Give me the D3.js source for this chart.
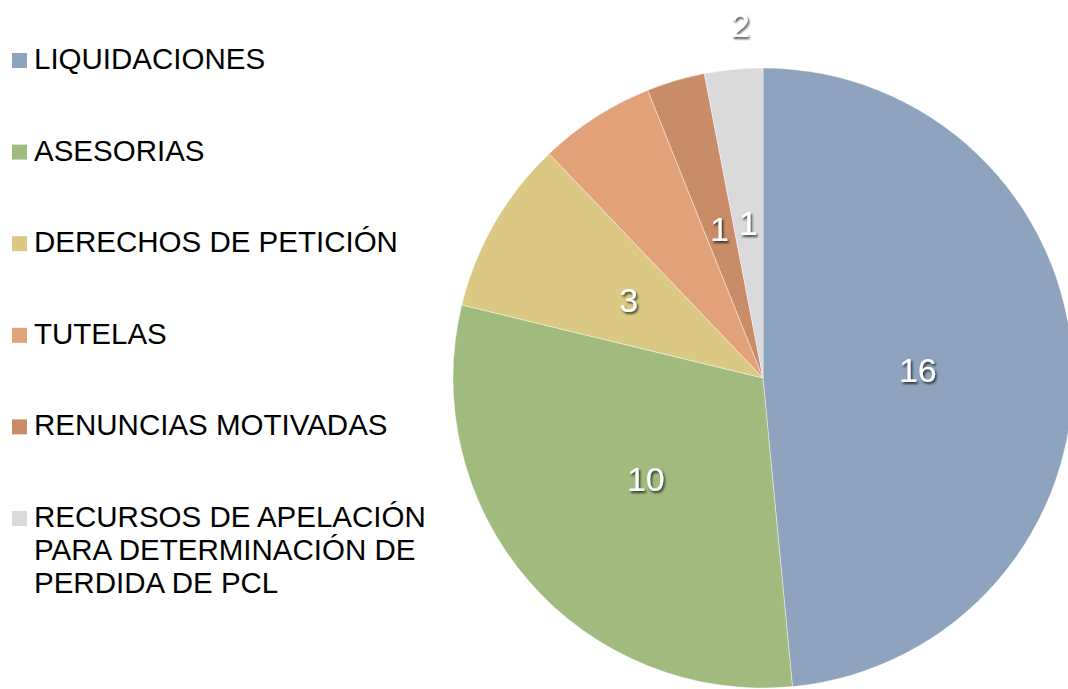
<!DOCTYPE html>
<html><head><meta charset="utf-8">
<script src="https://cdn.jsdelivr.net/npm/d3@7"></script>
<style>html,body{margin:0;padding:0;background:#fff;}svg{display:block;}</style>
</head><body>
<svg id="chart" width="1068" height="689"></svg>
<script>
const categories = ["LIQUIDACIONES","ASESORIAS","DERECHOS DE PETICIÓN","TUTELAS","RENUNCIAS MOTIVADAS","RECURSOS DE APELACIÓN PARA DETERMINACIÓN DE PERDIDA DE PCL"];
const legendLines = [["LIQUIDACIONES"],["ASESORIAS"],["DERECHOS DE PETICIÓN"],["TUTELAS"],["RENUNCIAS MOTIVADAS"],["RECURSOS DE APELACIÓN","PARA DETERMINACIÓN DE","PERDIDA DE PCL"]];
const values = [16,10,3,2,1,1];
const colors = ["#8DA3BE","#A1BA7D","#DBC983","#E3A17A","#C88C68","#DADADA"];
// label placement: [radius factor, angle override in degrees or null]
const labelPlacement = [[0.5,null],[0.5,null],[0.5,null],[1.14,-3.7],[0.5,null],[0.5,null]];

const svg = d3.select("#chart");
const cx = 763, cy = 378, R = 310;

const defs = svg.append("defs");
const f = defs.append("filter").attr("id","shadow").attr("x","-50%").attr("y","-50%").attr("width","200%").attr("height","200%");
f.append("feDropShadow").attr("dx",1.5).attr("dy",2).attr("stdDeviation",1.3).attr("flood-color","#000").attr("flood-opacity",0.7);

const pie = d3.pie().sort(null).value(d=>d)(values);
const arc = d3.arc().innerRadius(0).outerRadius(R);
const g = svg.append("g").attr("transform",`translate(${cx},${cy})`);
g.selectAll("path").data(pie).join("path")
  .attr("d",arc).attr("fill",(d,i)=>colors[i])
  .attr("stroke","rgba(255,255,255,0.5)").attr("stroke-width",0.8);

g.selectAll("text.lbl").data(pie).join("text").attr("class","lbl")
  .each(function(d,i){
    const [rf, ang] = labelPlacement[i];
    const a = ang===null ? (d.startAngle+d.endAngle)/2 : ang*Math.PI/180;
    const r = R*rf;
    d3.select(this).attr("x", r*Math.sin(a)).attr("y", -r*Math.cos(a));
  })
  .attr("text-anchor","middle").attr("dy","0.34em")
  .attr("font-family","Liberation Sans, Arial, sans-serif").attr("font-size",34)
  .attr("fill","#fff").attr("filter","url(#shadow)")
  .text(d=>d.data);

const leg = svg.append("g");
const rowY = d3.scaleLinear().domain([0,5]).range([69,527]);
legendLines.forEach((lines,i)=>{
  const y = rowY(i);
  leg.append("rect").attr("x",12).attr("y",y-16).attr("width",15).attr("height",15).attr("fill",colors[i]);
  const t = leg.append("text").attr("x",34).attr("y",y)
    .attr("font-family","Liberation Sans, Arial, sans-serif").attr("font-size",29.5).attr("fill","#000");
  lines.forEach((ln,j)=>{
    t.append("tspan").attr("x",34).attr("y",y+j*33).text(ln);
  });
});
</script>
</body></html>
